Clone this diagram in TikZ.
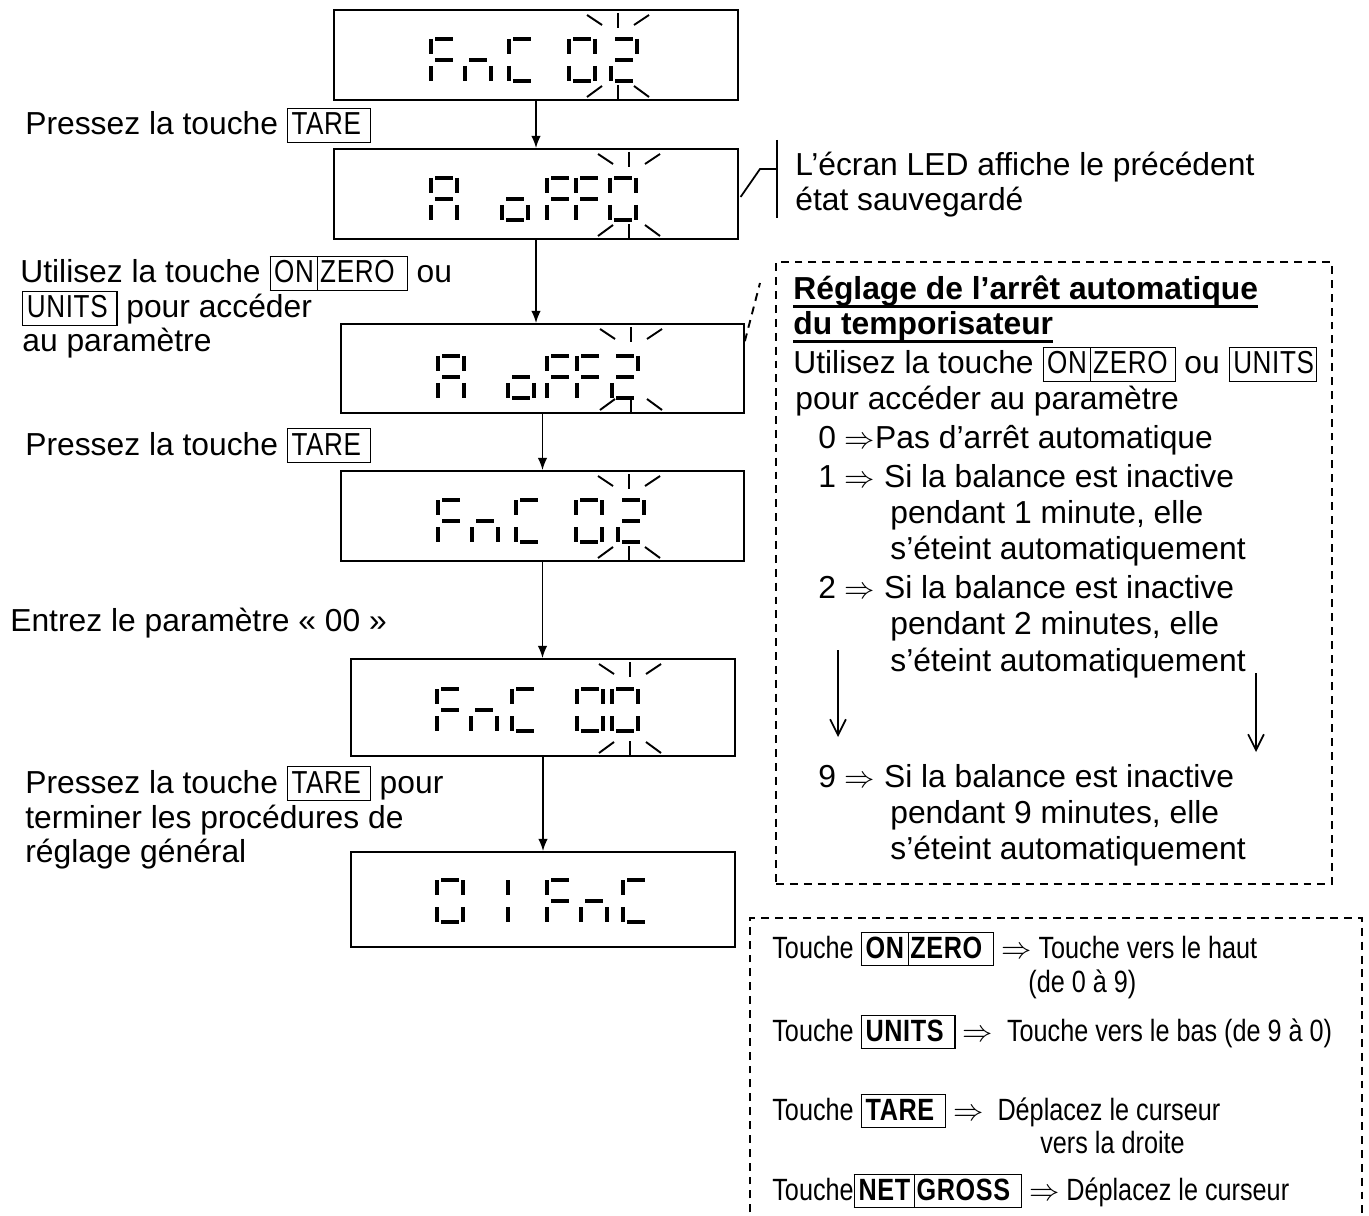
\documentclass[tikz,border=0pt]{standalone}
\usepackage{fontspec}
\setmainfont{Liberation Sans}
\newfontfamily\keyfont[FakeStretch=0.82,LetterSpace=2]{Liberation Sans}
\newfontfamily\narrowfont[FakeStretch=0.82]{Liberation Sans}
\usetikzlibrary{arrows.meta}

\newcommand{\mainsize}{\fontsize{18.1}{22}\selectfont}
\newcommand{\narrowsize}{\fontsize{17.5}{21}\narrowfont}
\newcommand{\keycap}[2][5pt]{{\setlength{\fboxsep}{0pt}\setlength{\fboxrule}{0.6pt}\fbox{\rule[-4pt]{0pt}{19pt}\hspace{2pt}{\keyfont #2}\hspace{#1}}}}
\newcommand{\keycapb}[1]{{\setlength{\fboxsep}{0pt}\setlength{\fboxrule}{0.8pt}\fbox{\rule[-4pt]{0pt}{18pt}\hspace{2pt}{\keyfont\bfseries #1}\hspace{6pt}}}}
\newcommand{\keybar}{\hspace{2pt}\vrule width 0.6pt\hspace{1pt}}

\newcommand{\lcdsega}{\draw[lcdseg] (4,0) -- (22,0);}
\newcommand{\lcdsegb}{\draw[lcdseg] (26,0) -- (26,15);}
\newcommand{\lcdsegc}{\draw[lcdseg] (26,27) -- (26,42);}
\newcommand{\lcdsegd}{\draw[lcdseg] (4,42) -- (22,42);}
\newcommand{\lcdsege}{\draw[lcdseg] (0,27) -- (0,42);}
\newcommand{\lcdsegf}{\draw[lcdseg] (0,0) -- (0,15);}
\newcommand{\lcdsegg}{\draw[lcdseg] (4,21) -- (22,21);}
\newcommand{\lcdchar}[3]{\begin{scope}[shift={(#1,#2)}]\foreach \s in {#3}{\csname lcdseg\s\endcsname}\end{scope}}
\newcommand{\blink}[3]{%
  \draw[blinkline] (#1,#2+3) -- (#1,#2+18);
  \draw[blinkline] (#1-31,#2+5) -- (#1-16,#2+15);
  \draw[blinkline] (#1+16,#2+15) -- (#1+31,#2+5);
  \draw[blinkline] (#1,#3-15) -- (#1,#3);
  \draw[blinkline] (#1-31,#3-3) -- (#1-16,#3-14);
  \draw[blinkline] (#1+16,#3-14) -- (#1+31,#3-3);}

\begin{document}
\begin{tikzpicture}[x=0.02cm, y=-0.02cm,
  lcdbox/.style={draw, line width=1pt, inner sep=0pt},
  lcdseg/.style={line width=2.4pt},
  blinkline/.style={line width=1.1pt},
  flow/.style={line width=1pt, -{Latex[length=7pt,width=5.5pt]}},
  vee/.style={line width=1pt, -{Straight Barb[length=9pt,width=9pt]}},
  dashbox/.style={draw, line width=1.1pt, dash pattern=on 4.5pt off 3.4pt, inner sep=0pt},
  txt/.style={anchor=base west, inner sep=0pt, font=\mainsize}]
\useasboundingbox (0,0) rectangle (1369,1216);
\clip (0,0) rectangle (1369,1216);

\node[lcdbox, minimum width=8.08cm, minimum height=1.8cm] (d1) at (536,55) {};
\node[lcdbox, minimum width=8.08cm, minimum height=1.8cm] (d2) at (536,194) {};
\node[lcdbox, minimum width=8.06cm, minimum height=1.78cm] (d3) at (542.5,368.5) {};
\node[lcdbox, minimum width=8.06cm, minimum height=1.8cm] (d4) at (542.5,516) {};
\node[lcdbox, minimum width=7.68cm, minimum height=1.94cm] (d5) at (543,707.5) {};
\node[lcdbox, minimum width=7.68cm, minimum height=1.9cm] (d6) at (543,899.5) {};

\lcdchar{431}{39}{a,f,e,g}
\lcdchar{465}{39}{e,g,c}
\lcdchar{509}{39}{a,f,e,d}
\lcdchar{569}{39}{a,b,c,d,e,f}
\lcdchar{611}{39}{a,b,g,e,d}
\blink{618}{10}{100}

\lcdchar{431}{178}{a,b,c,e,f,g}
\lcdchar{502}{178}{g,c,d,e}
\lcdchar{547}{178}{a,f,e,g}
\lcdchar{576}{178}{a,f,e,g}
\lcdchar{610}{178}{a,b,c,d,e,f}
\blink{629}{149}{239}

\lcdchar{438}{356}{a,b,c,e,f,g}
\lcdchar{508}{356}{g,c,d,e}
\lcdchar{547}{356}{a,f,e,g}
\lcdchar{577}{356}{a,f,e,g}
\lcdchar{612}{356}{a,b,g,e,d}
\blink{631}{324}{413}

\lcdchar{438}{500}{a,f,e,g}
\lcdchar{472}{500}{e,g,c}
\lcdchar{516}{500}{a,f,e,d}
\lcdchar{576}{500}{a,b,c,d,e,f}
\lcdchar{618}{500}{a,b,g,e,d}
\blink{629}{471}{561}

\lcdchar{437}{689}{a,f,e,g}
\lcdchar{471}{689}{e,g,c}
\lcdchar{512}{689}{a,f,e,d}
\lcdchar{577}{689}{a,b,c,d,e,f}
\lcdchar{612}{689}{a,b,c,d,e,f}
\blink{630}{659}{756}

\lcdchar{437}{880}{a,b,c,d,e,f}
\lcdchar{482}{880}{b,c}
\lcdchar{547}{880}{a,f,e,g}
\lcdchar{581}{880}{e,g,c}
\lcdchar{623}{880}{a,f,e,d}

\draw[flow] (d1.south) -- (d2.north);
\draw[flow] (d2.south) -- (d2.south |- d3.north);
\draw[flow] (d3.south) -- (d3.south |- d4.north);
\draw[flow] (d4.south) -- (d4.south |- d5.north);
\draw[flow] (d5.south) -- (d5.south |- d6.north);

\node[txt] (p1) at (25,135) {Pressez la touche \keycap{TARE}};
\node[txt] (u1) at (20,283) {Utilisez la touche \keycap[7pt]{ON\keybar ZERO} ou};
\node[txt] (u2) at (22,318) {\keycap{UNITS} pour accéder};
\node[txt] (u3) at (22,352) {au paramètre};
\node[txt] (p2) at (25,455) {Pressez la touche \keycap{TARE}};
\node[txt] (e1) at (10,631) {Entrez le paramètre « 00 »};
\node[txt] (p3) at (25,793) {Pressez la touche \keycap{TARE} pour};
\node[txt] (p4) at (25,828) {terminer les procédures de};
\node[txt] (p5) at (25,862) {réglage général};

\coordinate (ledtop) at (777,140);
\coordinate (ledbot) at (777,218);
\coordinate (ledknee) at (760,169);
\draw[line width=1pt] (ledtop) -- (ledbot);
\draw[line width=1pt] ([xshift=1pt,yshift=-1.7pt]d2.east) -- (ledknee) -- (ledknee -| ledtop);
\node[txt] (led1) at (795,176) {L’écran LED affiche le précédent};
\node[txt] (led2) at (795,211) {état sauvegardé};

\node[dashbox, minimum width=11.12cm, minimum height=12.44cm] (setbox) at (1054,573) {};
\coordinate (setlink) at (760,283);
\draw[dashbox] ([yshift=-0.36cm]d3.north east) -- (setlink);
\node[txt, font=\mainsize\bfseries] (rg1) at (793,300) {Réglage de l’arrêt automatique};
\node[txt, font=\mainsize\bfseries] (rg2) at (793,335) {du temporisateur};
\draw[line width=1.6pt] ([yshift=-3.5pt]rg1.base west) -- ([yshift=-3.5pt]rg1.base east);
\draw[line width=1.6pt] ([yshift=-3.5pt]rg2.base west) -- ([yshift=-3.5pt]rg2.base east);
\node[txt] (rg3) at (793,374) {Utilisez la touche \keycap[4pt]{ON\keybar ZERO} ou \keycap[1pt]{UNITS}};
\node[txt] (rg4) at (795,410) {pour accéder au paramètre};
\node[txt] (s0) at (818,448) {0 $\Rightarrow$Pas d’arrêt automatique};
\node[txt] (s1) at (818,487) {1 $\Rightarrow$ Si la balance est inactive};
\node[txt] (s1b) at (890,523) {pendant 1 minute, elle};
\node[txt] (s1c) at (890,559) {s’éteint automatiquement};
\node[txt] (s2) at (818,598) {2 $\Rightarrow$ Si la balance est inactive};
\node[txt] (s2b) at (890,634) {pendant 2 minutes, elle};
\node[txt] (s2c) at (890,671) {s’éteint automatiquement};
\coordinate (la1) at (838,650);
\coordinate (la2) at (838,737);
\coordinate (ra1) at (1256,673);
\coordinate (ra2) at (1256,752);
\draw[vee] (la1) -- (la2);
\draw[vee] (ra1) -- (ra2);
\node[txt] (s9) at (818,787) {9 $\Rightarrow$ Si la balance est inactive};
\node[txt] (s9b) at (890,823) {pendant 9 minutes, elle};
\node[txt] (s9c) at (890,859) {s’éteint automatiquement};

\draw[dashbox] (750,1240) -- (750,918) -- (1362,918) -- (1362,1240);
\node[txt, font=\narrowsize] (k1) at (772,958) {Touche \keycapb{ON\keybar ZERO} $\Rightarrow$ Touche vers le haut};
\node[txt, font=\narrowsize] (k1b) at (1028,992) {(de 0 à 9)};
\node[txt, font=\narrowsize] (k2) at (772,1041) {Touche \keycapb{UNITS} $\Rightarrow$\ \ Touche vers le bas (de 9 à 0)};
\node[txt, font=\narrowsize] (k3) at (772,1120) {Touche \keycapb{TARE} $\Rightarrow$\ \ Déplacez le curseur};
\node[txt, font=\narrowsize] (k3b) at (1040,1153) {vers la droite};
\node[txt, font=\narrowsize] (k4) at (772,1200) {Touche\keycapb{NET\keybar GROSS} $\Rightarrow$ Déplacez le curseur};
\end{tikzpicture}
\end{document}
